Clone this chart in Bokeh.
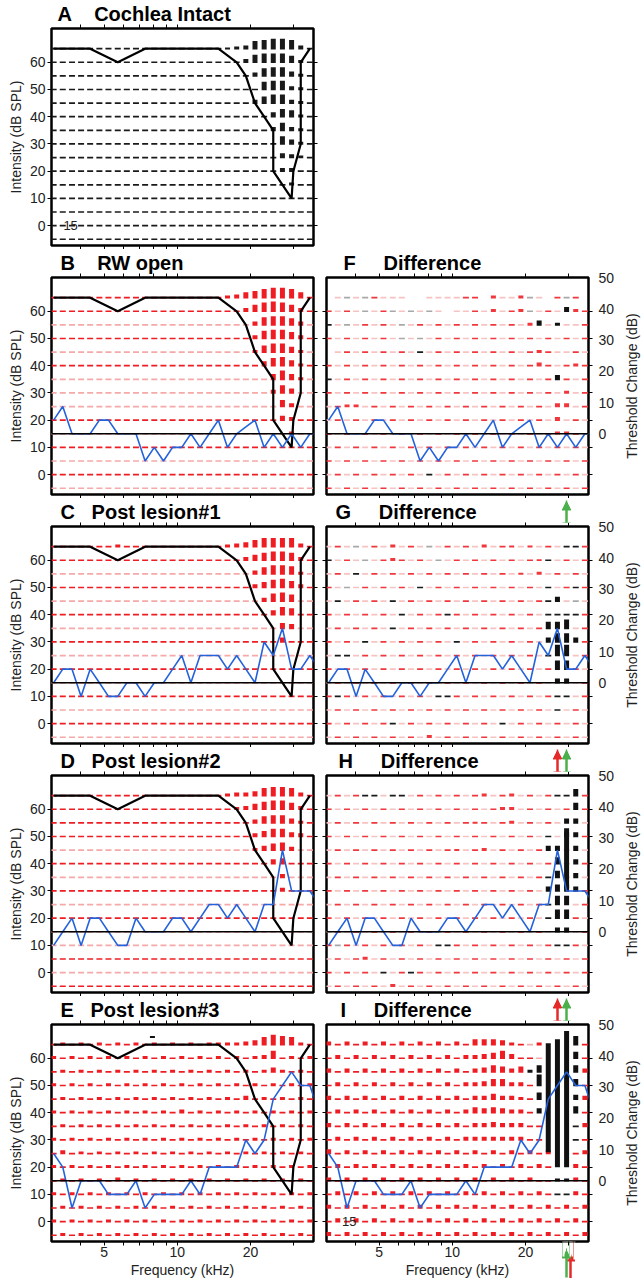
import math
from bokeh.plotting import figure
from bokeh.layouts import column, row
from bokeh.models import (Range1d, LinearAxis, LogAxis, FixedTicker, Label, Span)
from bokeh.embed import file_html
from bokeh.resources import INLINE

# ---------------- data ----------------
FREQ_KHZ = [3.10, 3.38, 3.69, 4.02, 4.38, 4.78, 5.21, 5.69, 6.20, 6.76,
            7.37, 8.04, 8.77, 9.56, 10.43, 11.37, 12.40, 13.52, 14.75, 16.08,
            17.54, 19.13, 20.86, 22.75, 24.80, 27.05, 29.50, 32.17, 35.08, 38.26]
LEVELS_DB = [65, 60, 55, 50, 45, 40, 35, 30, 25, 20, 15, 10, 5, 0, -5]
TICKS_KHZ = [3, 4, 5, 6, 7, 8, 9, 10, 20, 30]
TICK_LABELS_KHZ = {5: "5", 10: "10", 20: "20"}
INTENSITY_TICKS = [0, 10, 20, 30, 40, 50, 60]
CHANGE_TICKS = [0, 10, 20, 30, 40, 50]
BASELINE_DB = 15

# tuning curve of the intact cochlea (black outline)
TC_FREQ = [3.10, 4.38, 5.69, 7.37, 14.75, 17.54, 19.13, 20.86, 22.75, 24.80,
           24.80, 29.50, 30.0, 32.17, 32.17, 35.08]
TC_LEVEL = [65, 65, 60, 65, 65, 60, 55, 45, 40, 35, 20, 10, 20, 30, 60, 65]

# threshold (blue) curves
THR_B = [20, 25, 15, 15, 15, 20, 20, 15, 15, 15, 5, 10, 5, 10, 10, 15, 10, 15, 20, 10,
         15, 17.5, 20, 10, 15, 10, 15, 10, 15, 15]
THR_C = [15, 20, 20, 10, 20, 15, 10, 10, 15, 15, 10, 15, 15, 20, 25, 15, 25, 25, 25, 20,
         25, 20, 15, 30, 25, 35, 20, 20, 25, 20]
THR_D = [10, 15, 20, 10, 20, 20, 15, 10, 10, 20, 15, 15, 15, 20, 20, 15, 20, 25, 25, 20,
         25, 20, 15, 25, 25, 45, 30, 30, 30, 25]
THR_E = [25, 20, 5, 15, 15, 15, 10, 10, 10, 15, 5, 10, 10, 10, 10, 15, 10, 20, 20, 20,
         20, 30, 25, 30, 45, 50, 55, 50, 50, 40]

# response rasters: one string per level (65 .. -5), one char per frequency
# ' ' none, '.' faint dash, '-' dash, ',' grey dash, '~' black dash,
# '1'-'9' coloured block (height), 'a'-'i' black block (height)
RASTER_A_BASE = "---------------"
RASTER_A = ["123789983-", "3788862-", "378842-", "78832-", "368832-", "4762-",
            "3732-", "742-", "432-", "33--", "2--", "", "", "", ""]
RASTER_B_BASE = "--.-.-...-.-.-."
RASTER_B = ["235689985-", "3689863-", "378863.", "378863-", "268852.", "47852-",
            "5852.", "374..", "63..", "43--", "2..", "", "", "", ""]
RASTER_C_BASE = "--.-.-.-.-.-.-."
RASTER_C = ["2-----------234688883-", "3578873-", "368872.", "357863-", "3786..",
            "476--", "54..", "4---", "", "", "", "", "", "", ""]
RASTER_D_BASE = "----.-.-.-..-.-"
RASTER_D = ["233478873-", "23578863-", "367742-", "357743-", "24673..", "45---",
            "3...", "3---", "", "", "", "", "", "", ""]
RASTER_E_BASE = "---------------"
RASTER_E = ["-2-2-2-2-2-2-2-2-22223479872-",
            "2-2-2-2-2-2-2-2-2-2-2-237-2-2",
            "-2-2-2-2-2-2-2-2-2-2-2-242-2-",
            "2-2-2-2-2-2-2-2-2-2-2-2-2-2-2",
            "-2-2-2-2-2-2-2-2-2-2-3-2-2-2-",
            "2-2-2-2-2-2-2-3-2-2-2-2-2-2-2",
            "-2-2-2-2-2-2-2-2-2-2-2-2-2-2-",
            "2-2-2-2-2-2-2-2-2-2-2-2-2-2-2",
            "-3-2-2-2-2-2-2-2-2-2-2-2-2-2-",
            "2-2-2-2-2-2-2-2-2-2-2-2-2-2-2",
            "-2-2-2-3-2-2-2-2-2-2-2-2-2-2-",
            "2-2-2-2-2-2-2-2-2-2-2-2-2-2-2",
            "-2-2-2-2-2-2-2-2-2-2-2-2-2-2-",
            "2-2-2-2-2-2-2-2-2-2-2-2-2-2-2",
            "-2-2-2-2-2-2-2-2-2-2-2-2-2-2-"]
DIFF_BASE = "..............."
RASTER_F = [" .,.,-...  ....-- 2..2,. -,- ",
            "-.-.,.-,.,.,. ..-.2.-2,.-.b2-",
            "~.,.-.-.,.-.-.-.-.-.-.2b.a..-",
            "-.-.-.-.,.,.-.-.-.-.-.-.-.-.-",
            " .-.-.-.-.~.-.-.-.-.-.-2-..-.",
            "-.-.-.-.-.-.-.-.-.-.-.-3-.-2-",
            "~.-.-.-.-.-.-.-.-.-.-.-.-b-.-",
            "-.-.-.-.-.-.-.-.-.-.-.-.-.2.-",
            ".-22.-.-.-.-.-.-.-.-.-.-.33.-",
            ".-.-.-.-.-.-.-.-.-.-.-.-.3.-.",
            "-.-.-.-.-.-.-.-.-.-.-.-.-22-.",
            ".-.-.-.-.-.-.-.-.-.-.-.-.-.-.",
            "-.-.-.-.-.-.-.-.-.-.-.-.-.-.-",
            ".-.-.-.-.-.~.-.-.-.-.-.-.-.-.",
            "-.-.-.-.-.-.-.-.-.-.-.-.-.-.-"]
RASTER_G = [".-.,.-.2.-.,.-.-.2.-1.1.-.~~-",
            "~.-.,.-2-.-.,.-.-.-.-.-1~.-.-",
            ".-.~.-.-.-.-.-.-.-.-.1.2.-.-.",
            "-.,.-.-.-.~.-.-.-.-.-.-.~.-~-",
            ".~.-.-.~.-.-.-.-.-.-.-.-~b.,.",
            "-.-.-.-.~.-.-~-.-.-.-.-.~~~~-",
            ".-.-.-.~.-.-.-.-.-.-.-.-ccd.-",
            "-.-.~.-.-.-.-.~.-.-.-.-.bddb-",
            ".~~.-.-.-.-.-.-.-.-.-.-.~ee.-",
            "-.-.-.-.-.-.-.-.-.-.-.-.-dd-.",
            ".-.-.-.-.-.-.-.-.-.-.-.-.bb.-",
            "-~-.-.-.-.-.~~-.-.-.-.-.-~~.-",
            ".-.-.-.-.-.-.-.-.-.-.-.-.~.-.",
            "-.-.-.-~.-.-.-.-.-.~.-.-.-.-.",
            ".-.-.-.-.-.2.-.-.-.-.-.-.-.-."]
RASTER_H = [".-.-~~.~~.-.-.-.-2.-2.-.-~~c-",
            "-.-.-.-.-.-.-.-.-.-22.-.-.-c-",
            ".-.-.-.-.-.-.-.-1-.-2.-.-.bb.",
            "-.-.-.-.-.-.-.-.-.-.-.-.~.bb-",
            ".-.-.-.-.-.-.-1.-2.-.-.-bb.b.",
            "-.-.-.-.-.-.-.-.-.-.-.-.-c.b-",
            ".-.-.-.-.-.-.-.-.-.-.-.-~c.b.",
            "-.-.-.-.-.-.-.-.-.-.-.-.bccb-",
            ".-.-.-.-.-.-.-.-.-.-.-.-~dd.-",
            "-.-.-.-.-.-.-.-.-.-.-.-.~dd-.",
            ".-.-.-.-.-.-.-.-.-.-.-.-.bb.-",
            "-,-.-.-.-.-.~~-.-.-.-.-.-~~-.",
            ".-.-2.-.-.-.-.-.-.-.-.-.-.-.-",
            "-.-.-.~.-~-.-.-.-.-.-.-.-.-.-",
            ".-.-.-.2.-.-.-.-.-.-.-.-.-.-."]
RASTER_I = ["3-3-3-3-3-3-3-3-55542-.2   d-",
            "-3-3-3-3-3-3-3-334574--.   c-",
            "3-3-3-3-3-3-3-3-346535ac   c3",
            "-3-3-3-3-3-3-3-3346633-e   c-",
            "3-3-3-3-3-3-3-3-335332-c   b3",
            "-3-3-3-3-3-3-3-3545433-b   c-",
            "3-3-3-3-3-3-3-3-334333--   ~3",
            "-3-3-3-3-3-3-3-3333333--   ~-",
            "4-3-3-3-3-3-3-3-3-3-3-3-3  -3",
            "-3-3-3-3-3-3-3-3-3-3-3-3-  3-",
            "3-3-3-3-3-3-3-3-3-3-3-3--aa3-",
            "-3-3-3-3-3-3-3-3-3-3-3-3-~~3-",
            "3-3-3-3-3-3-3-3-3-3-3-3-3-3-3",
            "-3-3-3-3-3-3-3-3-3-3-3-3-3-3-",
            "3-3-3-3-3-3-3-3-3-3-3-3-3-3-3"]
# long black bars (merged cells)
BAR_H_IDX, BAR_H_LO, BAR_H_HI = [26], [31], [53]
BAR_I_IDX, BAR_I_LO, BAR_I_HI = [24, 25, 26], [25.5, 20, 20], [65.5, 67, 70]
# small stray mark above panel E (kHz, dB)
STRAY_MARK_E = (7.9, 67.8)

# panel titles: letter, name, offset from frame (px), gap (nbsp count)
TITLES = {
    "A": ("A", "Cochlea Intact", 6, 4),
    "B": ("B", "RW open", 9, 4),
    "C": ("C", "Post lesion#1", 9, 3),
    "D": ("D", "Post lesion#2", 9, 3),
    "E": ("E", "Post lesion#3", 9, 3),
    "F": ("F", "Difference", 17, 5),
    "G": ("G", "Difference", 9, 5),
    "H": ("H", "Difference", 12, 5),
    "I": ("I", "Difference", 14, 5),
}
STRAY_LABELS = {"A": (3.40, 0, "15"), "I": (3.52, 0, "15")}
GREEN, RED_ARROW = "#4bb04b", "#e42a2a"
# lesion-site markers: upward arrows (kHz, colour, extra px right, extra px down)
ARROWS_ABOVE = {"G": [(29.50, GREEN)],
                "H": [(27.05, RED_ARROW), (29.50, GREEN)],
                "I": [(27.05, RED_ARROW), (29.50, GREEN)]}
ARROWS_BELOW = {"I": [(29.50, RED_ARROW, 4, 3), (29.50, GREEN, 0, 0)]}

# arrow shapes, as (width px, length px) marks drawn outward from the panel edge
UP_HEAD_STEPS = [(9, 14), (7, 16), (5, 18), (3, 20), (1.5, 22)]
UP_ERASE = (11, 12)
UP_SHAFT = (2.5, 18)
LOW_SHAFT = (2.5, 36)
LOW_BLOCK = (9, 17)
LOW_ERASERS = [(3.5, 2, 15), (2.0, 1, 12), (1.0, 1, 10), (0.0, 1.2, 7)]  # (offset, width, length)
LOW_REPAIR = (16, 1)   # restores the frame edge under the erasers

# ---------------- styling ----------------
FONT = "Liberation Sans"
X_START, X_END = 3.038, 36.3
Y_START, Y_END = -7.3, 72.4
FW, FH = 262, 217
NCOL = 29
RED, RED_FAINT = "#ee1d23", "#f5a9a9"
BLUE = "#2462dc"
TOP_BORDER = 27
PX_PER_DECADE = FW / math.log10(X_END / X_START)


def expand(rows, base):
    return [s.rjust(NCOL, base[r])[-NCOL:] for r, s in enumerate(rows)]


def style_axis(ax, labels):
    ax.axis_line_color = None
    ax.major_tick_in = 0
    ax.major_tick_out = 4
    ax.minor_tick_in = 0
    ax.minor_tick_out = 0
    ax.major_tick_line_color = "black"
    ax.major_tick_line_width = 1
    ax.major_label_text_font = FONT
    ax.major_label_text_color = "#222222"
    if labels:
        ax.major_label_text_font_size = "14px"
        ax.major_label_standoff = 2
    else:
        ax.major_label_text_font_size = "0px"
        ax.major_label_standoff = 0
    ax.axis_label_text_font = FONT
    ax.axis_label_text_font_size = "14px"
    ax.axis_label_text_font_style = "normal"
    ax.axis_label_text_color = "#222222"
    ax.axis_label_standoff = 3


def make_fig(key, col, top, bottom, xlabels):
    letter, name, offset, gap = TITLES[key]
    p = figure(frame_width=FW, frame_height=FH, x_axis_type="log",
               x_range=Range1d(X_START, X_END), y_range=Range1d(Y_START, Y_END),
               output_backend="svg", toolbar_location=None,
               min_border_left=51 if col == 0 else 7,
               min_border_right=6 if col == 0 else 32,
               min_border_top=top, min_border_bottom=bottom,
               background_fill_color="white", border_fill_color="white",
               title=letter + "\u00a0" * gap + name)
    p.title.text_font = FONT
    p.title.text_font_size = "20px"
    p.title.text_font_style = "bold"
    p.title.text_color = "black"
    p.title.align = "left"
    p.title.offset = offset
    p.title.standoff = 0
    p.xgrid.visible = False
    p.ygrid.visible = False
    p.outline_line_color = "black"
    p.outline_line_width = 2.5
    p.outline_line_alpha = 1.0

    xa = p.xaxis[0]
    xa.ticker = FixedTicker(ticks=TICKS_KHZ, minor_ticks=[])
    style_axis(xa, xlabels)
    xa.major_label_overrides = {t: (TICK_LABELS_KHZ.get(t, "") if xlabels else "")
                                for t in TICKS_KHZ}
    if xlabels:
        xa.axis_label = "Frequency (kHz)"
        xa.major_label_standoff = 1
        xa.axis_label_standoff = 2
    ta = LogAxis(ticker=FixedTicker(ticks=TICKS_KHZ, minor_ticks=[]))
    style_axis(ta, False)
    ta.major_label_overrides = {t: "" for t in TICKS_KHZ}
    p.add_layout(ta, "above")

    ya = p.yaxis[0]
    ya.ticker = FixedTicker(ticks=INTENSITY_TICKS, minor_ticks=[])
    style_axis(ya, col == 0)
    if col == 0:
        ya.axis_label = "Intensity (dB SPL)"
    else:
        ya.major_label_overrides = {t: "" for t in INTENSITY_TICKS}
    ra = LinearAxis(ticker=FixedTicker(ticks=INTENSITY_TICKS, minor_ticks=[]))
    style_axis(ra, False)
    ra.major_label_overrides = {t: "" for t in INTENSITY_TICKS}
    p.add_layout(ra, "right")
    if col == 1:
        scale = (Y_END - BASELINE_DB) / 50.05
        p.extra_y_ranges = {"chg": Range1d((Y_START - BASELINE_DB) / scale,
                                           (Y_END - BASELINE_DB) / scale)}
        ca = LinearAxis(y_range_name="chg",
                        ticker=FixedTicker(ticks=CHANGE_TICKS, minor_ticks=[]))
        style_axis(ca, True)
        ca.major_tick_out = 0
        ca.major_tick_line_color = None
        ca.major_label_standoff = 6
        p.add_layout(ca, "right")
    return p


def label_fig(top, bottom):
    # thin companion plot carrying the right-hand axis title (reads bottom-to-top)
    q = figure(frame_width=1, frame_height=FH, x_range=Range1d(0, 1),
               y_range=Range1d(Y_START, Y_END), output_backend="svg",
               toolbar_location=None, min_border_left=20, min_border_right=0,
               min_border_top=top, min_border_bottom=bottom,
               background_fill_color="white", border_fill_color="white")
    q.outline_line_color = None
    q.grid.visible = False
    q.xaxis.visible = False
    ya = q.yaxis[0]
    ya.ticker = FixedTicker(ticks=[], minor_ticks=[])
    ya.axis_line_color = None
    ya.major_tick_out = 0
    ya.major_tick_in = 0
    ya.minor_tick_out = 0
    ya.minor_tick_in = 0
    ya.major_label_standoff = 0
    ya.axis_label = "Threshold Change (dB)"
    ya.axis_label_text_font = FONT
    ya.axis_label_text_font_size = "14px"
    ya.axis_label_text_font_style = "normal"
    ya.axis_label_text_color = "#222222"
    ya.axis_label_standoff = 1
    return q


def shift_px(f, dx):
    return f * 10 ** (dx / PX_PER_DECADE)


def mark_guide(xs, color, width, length):
    """Zero-extent guide: tick marks drawn outward from the panel edge (arrow pieces)."""
    ax = LogAxis(ticker=FixedTicker(ticks=xs, minor_ticks=[]))
    ax.axis_line_color = None
    ax.minor_tick_in = 0
    ax.minor_tick_out = 0
    ax.major_tick_out = 0
    ax.major_tick_in = -int(length)
    ax.major_tick_line_color = color
    ax.major_tick_line_width = width
    ax.major_tick_line_cap = "butt"
    ax.major_label_text_font_size = "0px"
    ax.major_label_text_alpha = 0
    ax.major_label_standoff = 0
    ax.major_label_overrides = {x: "" for x in xs}
    return ax


def up_arrows_above(specs):
    heads, erasers, shafts = [], [], []
    for f, c in specs:
        heads += [mark_guide([f], c, w, L) for w, L in UP_HEAD_STEPS]
        erasers.append(mark_guide([f], "white", UP_ERASE[0], UP_ERASE[1]))
        shafts.append(mark_guide([f], c, UP_SHAFT[0], UP_SHAFT[1]))
    return heads + erasers + shafts


def up_arrows_below(specs):
    guides = []
    for f, c, dx, dy in specs:
        x0 = shift_px(f, dx)
        guides.append(mark_guide([x0], c, LOW_SHAFT[0], LOW_SHAFT[1] + dy))
        guides.append(mark_guide([x0], c, LOW_BLOCK[0], LOW_BLOCK[1] + dy))
        for off, w, L in LOW_ERASERS:
            xs = [shift_px(f, dx + off)] if off == 0 else \
                 [shift_px(f, dx - off), shift_px(f, dx + off)]
            guides.append(mark_guide(xs, "white", w, L + dy))
    x_mid = shift_px(specs[0][0], 2)
    guides.append(mark_guide([x_mid], "black", LOW_REPAIR[0], LOW_REPAIR[1]))
    return guides


def draw_raster(p, rows, main, faint):
    dash_col = {".": faint, "-": main, ",": "#a8a8a8", "~": "#1a1a1a"}
    dx, dy, dc = [], [], []
    bx, by, bh, bc = [], [], [], []
    for r, s in enumerate(rows):
        lvl = LEVELS_DB[r]
        for i, ch in enumerate(s):
            f = FREQ_KHZ[i]
            if ch in dash_col:
                dx.append(f); dy.append(lvl); dc.append(dash_col[ch])
            elif ch.isdigit():
                h = 0.3 + 0.4 * int(ch)
                bx.append(f); by.append(lvl - 0.3 + h / 2); bh.append(h); bc.append(main)
            elif ch in "abcdefghi":
                h = 0.3 + 0.8 * (ord(ch) - 96)
                bx.append(f); by.append(lvl - 0.3 + h / 2); bh.append(h); bc.append("#111111")
    if dx:
        p.rect(x=dx, y=dy, width=6, height=1.7, width_units="screen",
               height_units="screen", fill_color=dc, line_color=None)
    if bx:
        p.rect(x=bx, y=by, width=5, height=bh, width_units="screen",
               fill_color=bc, line_color=None)


def draw_bars(p, idx, lo, hi):
    p.rect(x=[FREQ_KHZ[i] for i in idx], y=[(a + b) / 2 for a, b in zip(lo, hi)],
           width=5, height=[b - a for a, b in zip(lo, hi)], width_units="screen",
           fill_color="#111111", line_color=None)


def add_stray(p, key):
    if key in STRAY_LABELS:
        x, y, t = STRAY_LABELS[key]
        p.add_layout(Label(x=x, y=y, text=t, text_font=FONT, text_font_size="13px",
                           text_color="#222222", text_baseline="middle"))


PANELS = {
    "A": (0, RASTER_A, RASTER_A_BASE, None, "#1a1a1a", "#9a9a9a"),
    "B": (0, RASTER_B, RASTER_B_BASE, THR_B, RED, RED_FAINT),
    "C": (0, RASTER_C, RASTER_C_BASE, THR_C, RED, RED_FAINT),
    "D": (0, RASTER_D, RASTER_D_BASE, THR_D, RED, RED_FAINT),
    "E": (0, RASTER_E, RASTER_E_BASE, THR_E, RED, RED_FAINT),
    "F": (1, RASTER_F, DIFF_BASE, THR_B, "#f0373c", "#f7c2c2"),
    "G": (1, RASTER_G, DIFF_BASE, THR_C, "#f0373c", "#f7c2c2"),
    "H": (1, RASTER_H, DIFF_BASE, THR_D, "#f0373c", "#f7c2c2"),
    "I": (1, RASTER_I, DIFF_BASE, THR_E, RED, RED_FAINT),
}

figs = {}
for key, (col, raster, base, thr, main, faint) in PANELS.items():
    last = key in ("E", "I")
    p = make_fig(key, col, TOP_BORDER, 40 if last else 4, last)
    draw_raster(p, expand(raster, base), main, faint)
    if key == "E":
        p.rect(x=[STRAY_MARK_E[0]], y=[STRAY_MARK_E[1]], width=5, height=2,
               width_units="screen", height_units="screen",
               fill_color="#111111", line_color=None)
    if key == "H":
        draw_bars(p, BAR_H_IDX, BAR_H_LO, BAR_H_HI)
    if key == "I":
        draw_bars(p, BAR_I_IDX, BAR_I_LO, BAR_I_HI)
    if col == 0:
        p.line(TC_FREQ, TC_LEVEL, line_color="black", line_width=2.2)
    if thr is not None:
        p.line(FREQ_KHZ, thr, line_color=BLUE, line_width=1.6)
        p.add_layout(Span(location=BASELINE_DB, dimension="width",
                          line_color="black", line_width=1.6))
    if key in ARROWS_ABOVE:
        p.above = list(p.above) + up_arrows_above(ARROWS_ABOVE[key])
    if key in ARROWS_BELOW:
        p.below = up_arrows_below(ARROWS_BELOW[key]) + list(p.below)
    add_stray(p, key)
    figs[key] = p

layout = column(
    figs["A"],
    row(figs["B"], figs["F"], label_fig(TOP_BORDER, 4)),
    row(figs["C"], figs["G"], label_fig(TOP_BORDER, 4)),
    row(figs["D"], figs["H"], label_fig(TOP_BORDER, 4)),
    row(figs["E"], figs["I"], label_fig(TOP_BORDER, 40)),
)

open("out.html", "w").write(file_html(layout, INLINE))
